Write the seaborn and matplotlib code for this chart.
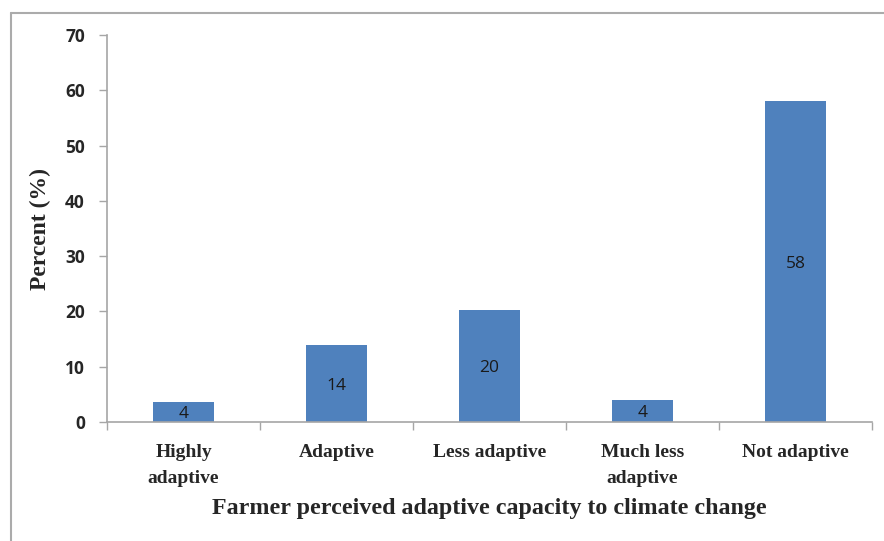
import matplotlib
matplotlib.use("Agg")
import matplotlib.pyplot as plt
import seaborn as sns
import pandas as pd
from matplotlib.lines import Line2D

categories = ["Highly\nadaptive", "Adaptive", "Less adaptive", "Much less\nadaptive", "Not adaptive"]
values = [3.6, 13.9, 20.3, 4.0, 58.1]
labels = ["4", "14", "20", "4", "58"]
yticks = [0, 10, 20, 30, 40, 50, 60, 70]

sns.set_theme(style="white")
df = pd.DataFrame({"cat": categories, "val": values})

fig = plt.figure(figsize=(8.84, 5.41), dpi=100)
ax = fig.add_axes([107/884, 1 - 422/541, (872-107)/884, (422-35)/541])

sns.barplot(data=df, x="cat", y="val", color="#4F81BD", saturation=1, width=0.405, ax=ax, linewidth=0)

ax.set_ylim(0, 70)
ax.set_xlim(-0.5, 4.5)
ax.set_yticks(yticks)
ax.set_yticklabels([str(t) for t in yticks], fontfamily="Open Sans", fontweight="bold", fontsize=12.5)

# x ticks at boundaries, labels at centers
ax.set_xticks([i - 0.5 for i in range(6)])
ax.set_xticklabels([""] * 6)
ax.set_xticks(range(5), minor=True)
ax.set_xticklabels(categories, minor=True, fontfamily="Liberation Serif", fontweight="bold",
                   fontsize=14, linespacing=1.65, va="top")
ax.tick_params(axis="x", which="major", length=6, width=1, color="#A6A6A6", direction="out", bottom=True)
ax.tick_params(axis="x", which="minor", length=0, pad=16, bottom=True)
ax.tick_params(axis="y", length=6, width=1, color="#A6A6A6", direction="out", left=True, pad=10)

for s in ["top", "right"]:
    ax.spines[s].set_visible(False)
for s in ["left", "bottom"]:
    ax.spines[s].set_color("#A6A6A6")
    ax.spines[s].set_linewidth(1.2)

for i, (v, lab) in enumerate(zip(values, labels)):
    ax.text(i, v / 2 - 0.4, lab, ha="center", va="center", fontsize=12.5, fontfamily="Open Sans", color="#1a1a1a")

ax.set_xlabel("Farmer perceived adaptive capacity to climate change", fontfamily="Liberation Serif",
              fontweight="bold", fontsize=17.3, labelpad=8)
ax.set_ylabel("Percent (%)", fontfamily="Liberation Serif", fontweight="bold", fontsize=17, labelpad=10)
ax.grid(False)

# outer frame lines (top and left)
fig.add_artist(Line2D([11/884, 1], [1 - 13/541, 1 - 13/541], transform=fig.transFigure, color="#ABABAB", lw=1.5))
fig.add_artist(Line2D([11/884, 11/884], [0, 1 - 13/541], transform=fig.transFigure, color="#ABABAB", lw=1.5))

fig.savefig("out.png", dpi=100)
